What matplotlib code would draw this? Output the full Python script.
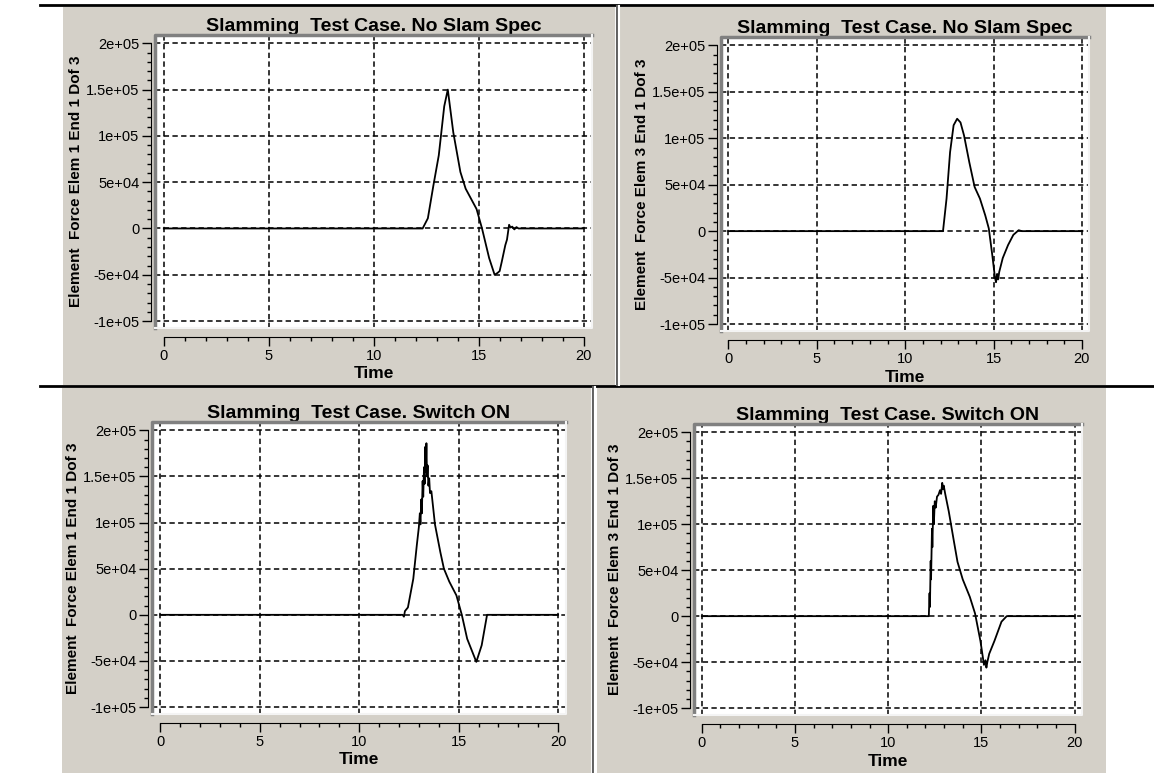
import numpy as np
import matplotlib
matplotlib.use("Agg")
import matplotlib.pyplot as plt
from matplotlib.patches import Rectangle
from matplotlib.lines import Line2D

plt.rcParams['font.family'] = ['Liberation Sans', 'DejaVu Sans']

# ---- data ----
titles = ["Slamming  Test Case. No Slam Spec", "Slamming  Test Case. No Slam Spec",
          "Slamming  Test Case. Switch ON", "Slamming  Test Case. Switch ON"]
ylabels = ["Element  Force Elem 1 End 1 Dof 3", "Element  Force Elem 3 End 1 Dof 3",
           "Element  Force Elem 1 End 1 Dof 3", "Element  Force Elem 3 End 1 Dof 3"]

x_ticks = [0, 5, 10, 15, 20]
x_ticklabels = ["0", "5", "10", "15", "20"]
y_ticks = [2e5, 1.5e5, 1e5, 5e4, 0, -5e4, -1e5]
y_ticklabels = ["2e+05", "1.5e+05", "1e+05", "5e+04", "0", "-5e+04", "-1e+05"]

# top left: elem 1, no slam spec
t_tl = [0, 12.33, 12.58, 12.84, 13.1, 13.36, 13.53, 13.79, 14.13, 14.38, 14.9, 15.16,
        15.5, 15.76, 15.9, 16.0, 16.1, 16.27, 16.35, 16.45, 16.52, 16.6, 16.7, 16.8, 16.9, 20]
f_tl = [0, 0, 1.1e4, 4.6e4, 7.9e4, 1.32e5, 1.5e5, 1.04e5, 6.1e4, 4.3e4, 2.1e4, 0,
        -3.2e4, -5.0e4, -4.8e4, -4.6e4, -3.6e4, -1.8e4, -1.2e4, 4e3, 1e3, 2e3, -1e3, 1.5e3, 0, 0]

# top right: elem 3, no slam spec
t_tr = [0, 12.14, 12.34, 12.54, 12.74, 12.94, 13.13, 13.33, 13.63, 13.93, 14.23, 14.53,
        14.73, 14.93, 15.08, 15.14, 15.2, 15.26, 15.32, 15.52, 15.82, 16.12, 16.42, 16.6, 20]
f_tr = [0, 0, 3.5e4, 8.5e4, 1.14e5, 1.21e5, 1.17e5, 1.03e5, 7.4e4, 4.75e4, 3.5e4, 1.7e4,
        3e3, -2.6e4, -5.0e4, -5.5e4, -4.6e4, -5.2e4, -4.4e4, -2.9e4, -1.5e4, -4e3, 1e3, 0, 0]

# bottom left: elem 1, switch on
t_bl = [0, 12.18, 12.25, 12.3, 12.45, 12.72, 12.9, 13.0, 13.05, 13.08, 13.12, 13.15, 13.19,
        13.22, 13.26, 13.29, 13.32, 13.35, 13.38, 13.41, 13.44, 13.48, 13.52, 13.56, 13.63,
        13.81, 14.08, 14.26, 14.53, 14.89, 15.16, 15.43, 15.89, 16.16, 16.43, 16.5, 20]
f_bl = [0, 0, -2e3, 4e3, 8e3, 3.9e4, 7.6e4, 9.5e4, 1.1e5, 9.8e4, 1.25e5, 1.1e5, 1.45e5,
        1.28e5, 1.6e5, 1.42e5, 1.82e5, 1.55e5, 1.86e5, 1.5e5, 1.62e5, 1.4e5, 1.48e5, 1.32e5, 1.34e5,
        9.8e4, 6.8e4, 5.0e4, 3.6e4, 2.1e4, 0, -2.6e4, -5.1e4, -3.3e4, 0, 0, 0]

# bottom right: elem 3, switch on
t_br = [0, 12.18, 12.22, 12.24, 12.28, 12.3, 12.35, 12.37, 12.42, 12.45, 12.5, 12.55, 12.62,
        12.7, 12.78, 12.84, 12.9, 12.94, 12.98, 13.06, 13.25, 13.53, 13.72, 14.0, 14.38, 14.66,
        14.95, 15.14, 15.22, 15.27, 15.32, 15.42, 15.7, 16.08, 16.36, 20]
f_br = [0, 0, 2.5e4, 1.0e4, 6.0e4, 4.0e4, 9.5e4, 7.5e4, 1.2e5, 1.0e5, 1.25e5, 1.18e5, 1.3e5,
        1.32e5, 1.37e5, 1.33e5, 1.45e5, 1.38e5, 1.42e5, 1.33e5, 1.14e5, 8.1e4, 5.9e4, 4.0e4, 2.1e4, 3e3,
        -2.7e4, -5.3e4, -4.8e4, -5.6e4, -5.0e4, -4.1e4, -2.7e4, -6e3, 0, 0]

times = [t_tl, t_tr, t_bl, t_br]
forces = [f_tl, f_tr, f_bl, f_br]

# ---- layout (pixels in a 1154 x 773 picture) ----
W, H = 1154, 773
GRAY = '#d4d0c8'
axes_px = [(155, 35, 592, 328), (721, 37, 1089, 331), (152, 422, 566, 714), (694, 424, 1082, 715)]
panels_px = [(63, 7, 615, 385), (620, 7, 1106, 385), (62, 388, 591, 773), (597, 388, 1106, 773)]

fig = plt.figure(figsize=(W / 100, H / 100), dpi=100)
fig.patch.set_facecolor('white')


def fx(x):
    return x / W


def fy(y):
    return 1 - y / H


for (l, t, r, b) in panels_px:
    fig.add_artist(Rectangle((fx(l), fy(b)), fx(r - l), (b - t) / H, transform=fig.transFigure,
                             facecolor=GRAY, edgecolor='none', zorder=-10))

# table lines and panel separators
for y in [5, 386]:
    fig.add_artist(Line2D([fx(40), 1], [fy(y), fy(y)], color='black', lw=2, zorder=-5))
fig.add_artist(Line2D([fx(616.5), fx(616.5)], [fy(6), fy(385)], color='#606060', lw=1.5, zorder=-5))
fig.add_artist(Line2D([fx(619), fx(619)], [fy(6), fy(385)], color='white', lw=1.5, zorder=-5))
fig.add_artist(Line2D([fx(592.5), fx(592.5)], [fy(387), fy(773)], color='#606060', lw=1.5, zorder=-5))
fig.add_artist(Line2D([fx(595), fx(595)], [fy(387), fy(773)], color='white', lw=1.5, zorder=-5))

for i in range(4):
    l, t, r, b = axes_px[i]
    ax = fig.add_axes([fx(l), fy(b), fx(r - l), (b - t) / H])
    ax.set_facecolor('white')
    ax.plot(times[i], forces[i], color='black', lw=1.3, zorder=3)
    ax.set_xlim(-0.42, 20.4)
    ax.set_ylim(-1.075e5, 2.09e5)

    ax.set_xticks(x_ticks, x_ticklabels)
    ax.set_yticks(y_ticks, y_ticklabels)
    ax.set_xticks(np.arange(0, 21, 1), minor=True)
    ax.set_yticks(np.arange(-1e5, 2.01e5, 1e4), minor=True)
    ax.grid(True, which='major', color='black', linestyle=(0, (3.5, 2.2)), lw=1.1, zorder=1)

    for s in ['top', 'right']:
        ax.spines[s].set_visible(False)
    ax.spines['left'].set_position(('outward', 2.6))
    ax.spines['bottom'].set_position(('outward', 6.5))
    ax.spines['left'].set_bounds(-1e5, 2e5)
    ax.spines['bottom'].set_bounds(0, 20)
    ax.tick_params(which='major', direction='out', length=6.5, width=1, labelsize=10.5, pad=2)
    ax.tick_params(which='minor', direction='out', length=3, width=1)

    # sunken frame
    ax.plot([0, 0, 1], [0, 1, 1], transform=ax.transAxes, color='#808080', lw=2.5,
            clip_on=False, zorder=5)
    ax.plot([0, 1, 1], [0, 0, 1], transform=ax.transAxes, color='#f4f4f4', lw=1.5,
            clip_on=False, zorder=5)

    ax.set_title(titles[i], fontsize=14, fontweight='bold', pad=3)
    fig.text(fx(l - 79), fy((t + b) / 2), ylabels[i], rotation=90, ha='center', va='center',
             fontsize=11, fontweight='bold')
    fig.text(fx((l + r) / 2), fy(b + 46), "Time", ha='center', va='center',
             fontsize=12.5, fontweight='bold')

fig.savefig("out.png", dpi=100, facecolor='white')
